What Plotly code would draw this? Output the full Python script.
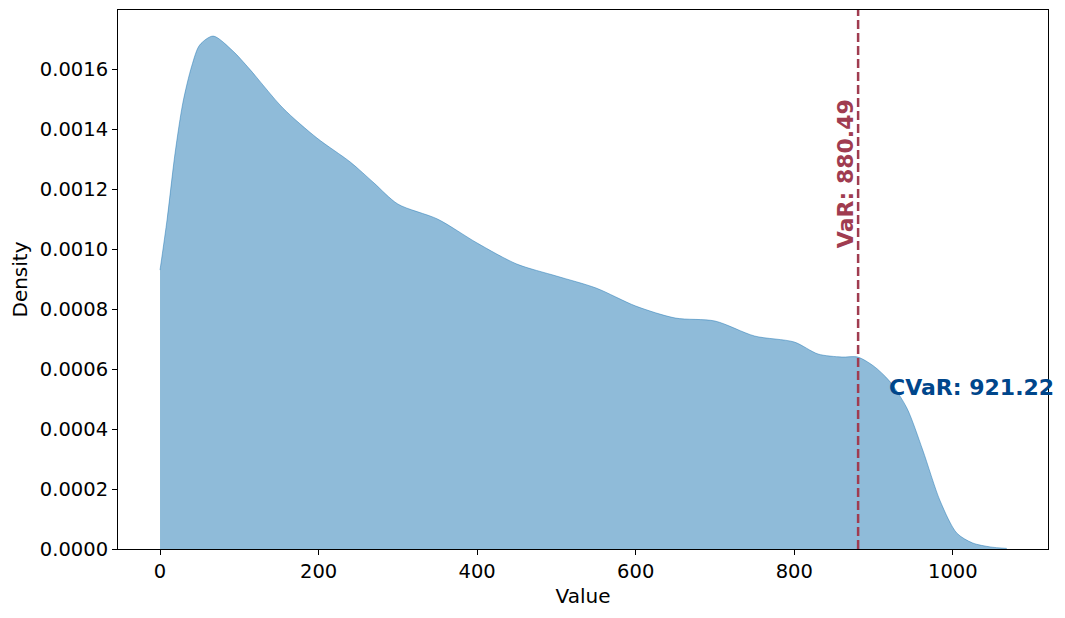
import plotly.graph_objects as go

# KDE density
values = [0, 9, 19, 29, 40, 50, 67, 92, 113, 155, 198, 240, 270, 300, 350,
          400, 450, 500, 550, 600, 650, 700, 750, 800, 830, 860, 880, 900, 920,
          942, 962, 984, 1005, 1025, 1047, 1068]
density = [0.00093, 0.00110, 0.00132, 0.00149, 0.00161, 0.00168, 0.00171, 0.00166,
           0.00160, 0.00147, 0.00137, 0.00129, 0.00122, 0.00115, 0.00110,
           0.00102, 0.00095, 0.00091, 0.00087, 0.00081, 0.00077, 0.00076, 0.00071,
           0.00069, 0.00065, 0.00064, 0.00064, 0.00061, 0.00056,
           0.00047, 0.00033, 0.00016, 0.000053, 0.00002, 0.000007, 0.000002]

var_value = 880.49
cvar_value = 921.22

font = "DejaVu Sans"

fig = go.Figure()
fig.add_trace(go.Scatter(x=values, y=density, mode='lines', fill='tozeroy',
                         line=dict(color='rgba(31,119,180,0.6)', width=0.8, shape='spline', smoothing=0.8),
                         fillcolor='rgba(31,119,180,0.5)', showlegend=False))

fig.add_shape(type='line', x0=var_value, x1=var_value, y0=0, y1=1, yref='paper',
              line=dict(color='#A03C50', width=2.5, dash='9px,4px'))

fig.add_annotation(x=var_value, y=0.00125, text="<b>VaR: 880.49</b>", textangle=-90,
                   showarrow=False, xanchor='center', yanchor='middle', xshift=-13,
                   font=dict(family=font, size=22, color='#A03C50'))
fig.add_annotation(x=cvar_value, y=0.000537, text="<b>CVaR: 921.22</b>",
                   showarrow=False, xanchor='left', yanchor='middle', xshift=-3,
                   font=dict(family=font, size=22, color='#00468B'))

axis_style = dict(showline=True, linecolor='black', linewidth=1, mirror=True,
                  ticks='outside', ticklen=5, tickcolor='black', showgrid=False,
                  zeroline=False, tickfont=dict(family=font, size=19.5, color='black'))

# the page body adds 8px on the left and top, so the figure is a bit smaller
fig.update_layout(
    width=1057, height=610,
    plot_bgcolor='white', paper_bgcolor='white',
    margin=dict(l=110, r=17, t=2, b=69),
    xaxis=dict(range=[-53, 1120], tickvals=[0, 200, 400, 600, 800, 1000],
               title=dict(text='Value', font=dict(family=font, size=20, color='black'), standoff=6),
               **axis_style),
    yaxis=dict(range=[0, 0.001797], tickvals=[i * 0.0002 for i in range(9)], tickformat='.4f',
               title=dict(text='Density', font=dict(family=font, size=20, color='black'), standoff=8),
               **axis_style),
)

fig.write_html("out.html")
